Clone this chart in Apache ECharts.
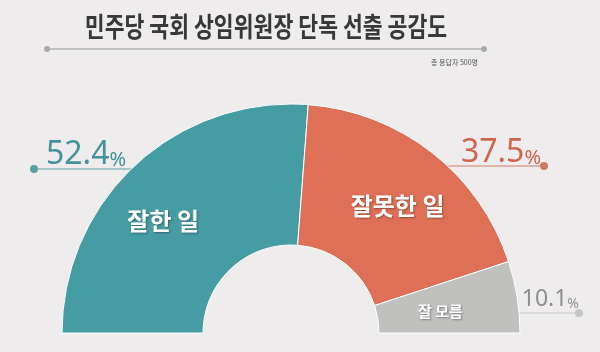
<!DOCTYPE html>
<html>
<head>
<meta charset="utf-8">
<script src="https://cdn.jsdelivr.net/npm/echarts@6/dist/echarts.min.js"></script>
<style>
html, body { margin: 0; padding: 0; background: #eeeced; }
#main { width: 600px; height: 352px; }
</style>
</head>
<body>
<div id="main"></div>
<script>
// 응답 항목과 비율(%)
const categories = ['잘한 일', '잘못한 일', '잘 모름'];
const values = [52.4, 37.5, 10.1];

const titleText = '민주당 국회 상임위원장 단독 선출 공감도';
const subtitleText = '총 응답자 500명';

// 색상
const sliceColors = ['#459ca2', '#dd7056', '#c0c0bf'];
const textColors = ['#44929a', '#cf664e', '#8f8f8f'];
const lineColors = ['#5c9ea3', '#cf7a64', '#c6c6c6'];

// 도넛 위치 (픽셀)
const CX = 291, CY = 333, R0 = 88, R = 229;

// 바깥 퍼센트 라벨 배치 (rise: 선에서 글자 기준선까지 높이)
const callouts = [
    { lineY: 169, dotX: 34, side: 'left', size: 32, pSize: 20, gap: 12, rise: 4.5 },
    { lineY: 166, dotX: 544, side: 'right', size: 32, pSize: 20, gap: 3, rise: 3.3 },
    { lineY: 313, dotX: 579, side: 'right', size: 23, pSize: 14, gap: 0, rise: 7 }
];
// 안쪽 항목 라벨 미세 조정
const innerShift = [[-18, 6], [7, 0], [-10, 4]];
const innerSize = [24, 24, 15];

const chart = echarts.init(document.getElementById('main'));

function edgeX(c) {
    const dy = CY - c.lineY;
    const half = Math.sqrt(R * R - dy * dy);
    return c.side === 'left' ? CX - half : CX + half;
}

function valueLabel(i) {
    const c = callouts[i];
    return {
        show: true,
        position: 'outside',
        width: 140,
        formatter: '{v|' + values[i].toFixed(1) + '}{p|%}',
        rich: {
            v: {
                fontFamily: 'Noto Sans', fontSize: c.size, color: textColors[i],
                lineHeight: Math.round(c.size * 0.7), verticalAlign: 'bottom'
            },
            p: {
                fontFamily: 'Noto Sans', fontSize: c.pSize, color: textColors[i],
                lineHeight: Math.round(c.pSize * 0.7), verticalAlign: 'bottom'
            }
        }
    };
}

const sliceData = categories.map((name, i) => ({
    name: name,
    value: values[i],
    itemStyle: { color: sliceColors[i] },
    label: { fontSize: innerSize[i] }
}));

const valueData = categories.map((name, i) => ({
    name: name,
    value: values[i],
    label: valueLabel(i)
}));

const dotData = categories.map((name, i) => ({
    name: name,
    value: values[i],
    label: {
        show: true,
        position: 'outside',
        formatter: '{d|}',
        rich: { d: { width: 8, height: 8, lineHeight: 8, borderRadius: 4, backgroundColor: lineColors[i] } }
    },
    labelLine: { show: true, lineStyle: { color: lineColors[i], width: 1 } }
}));

const ghostPie = {
    type: 'pie',
    center: [CX, CY],
    radius: [R0, R],
    startAngle: 180,
    endAngle: 0,
    silent: true,
    avoidLabelOverlap: false,
    itemStyle: { color: 'rgba(0,0,0,0)' },
    labelLine: { show: false, length: 10, length2: 10 }
};

const option = {
    backgroundColor: '#eeeced',
    animation: false,
    graphic: [
        {
            type: 'text', x: 266, y: 27, scaleX: 0.8,
            style: {
                text: titleText, align: 'center', verticalAlign: 'middle',
                font: 'bold 27px "Noto Sans CJK KR"', fill: '#383838'
            }
        },
        { type: 'line', shape: { x1: 47, y1: 49, x2: 484, y2: 49 }, style: { stroke: '#b3b3b3', lineWidth: 1.5 } },
        { type: 'circle', shape: { cx: 47, cy: 49, r: 3 }, style: { fill: '#aaaaaa' } },
        { type: 'circle', shape: { cx: 484, cy: 49, r: 3 }, style: { fill: '#aaaaaa' } },
        {
            type: 'text', x: 478, y: 62,
            style: {
                text: subtitleText, align: 'right', verticalAlign: 'middle',
                font: '7px "Noto Sans CJK KR"', fill: '#555555'
            }
        }
    ],
    series: [
        {
            type: 'pie',
            center: [CX, CY],
            radius: [R0, R],
            startAngle: 180,
            endAngle: 0,
            silent: true,
            avoidLabelOverlap: false,
            itemStyle: { borderColor: '#ffffff', borderWidth: 1 },
            label: {
                show: true,
                position: 'inside',
                formatter: '{b}',
                color: '#ffffff',
                fontFamily: 'Noto Sans CJK KR',
                fontWeight: 'bold',
                textShadowColor: 'rgba(0,0,0,0.35)',
                textShadowBlur: 2,
                textShadowOffsetX: 1,
                textShadowOffsetY: 1
            },
            labelLayout: function (params) {
                const s = innerShift[params.dataIndex];
                return { dx: s[0], dy: s[1] };
            },
            data: sliceData
        },
        // 선과 점
        Object.assign({}, ghostPie, {
            labelLayout: function (params) {
                const c = callouts[params.dataIndex];
                const x0 = edgeX(c);
                return {
                    x: c.dotX,
                    y: c.lineY,
                    align: 'center',
                    verticalAlign: 'middle',
                    labelLinePoints: [[x0, c.lineY], [x0, c.lineY], [c.dotX, c.lineY]]
                };
            },
            data: dotData
        }),
        // 퍼센트 숫자
        Object.assign({}, ghostPie, {
            labelLayout: function (params) {
                const c = callouts[params.dataIndex];
                const isLeft = c.side === 'left';
                return {
                    x: isLeft ? c.dotX + c.gap : c.dotX - c.gap,
                    y: c.lineY - c.rise + Math.round(c.size * 0.2),
                    align: isLeft ? 'left' : 'right',
                    verticalAlign: 'bottom'
                };
            },
            data: valueData
        })
    ]
};

chart.setOption(option);
</script>
</body>
</html>
